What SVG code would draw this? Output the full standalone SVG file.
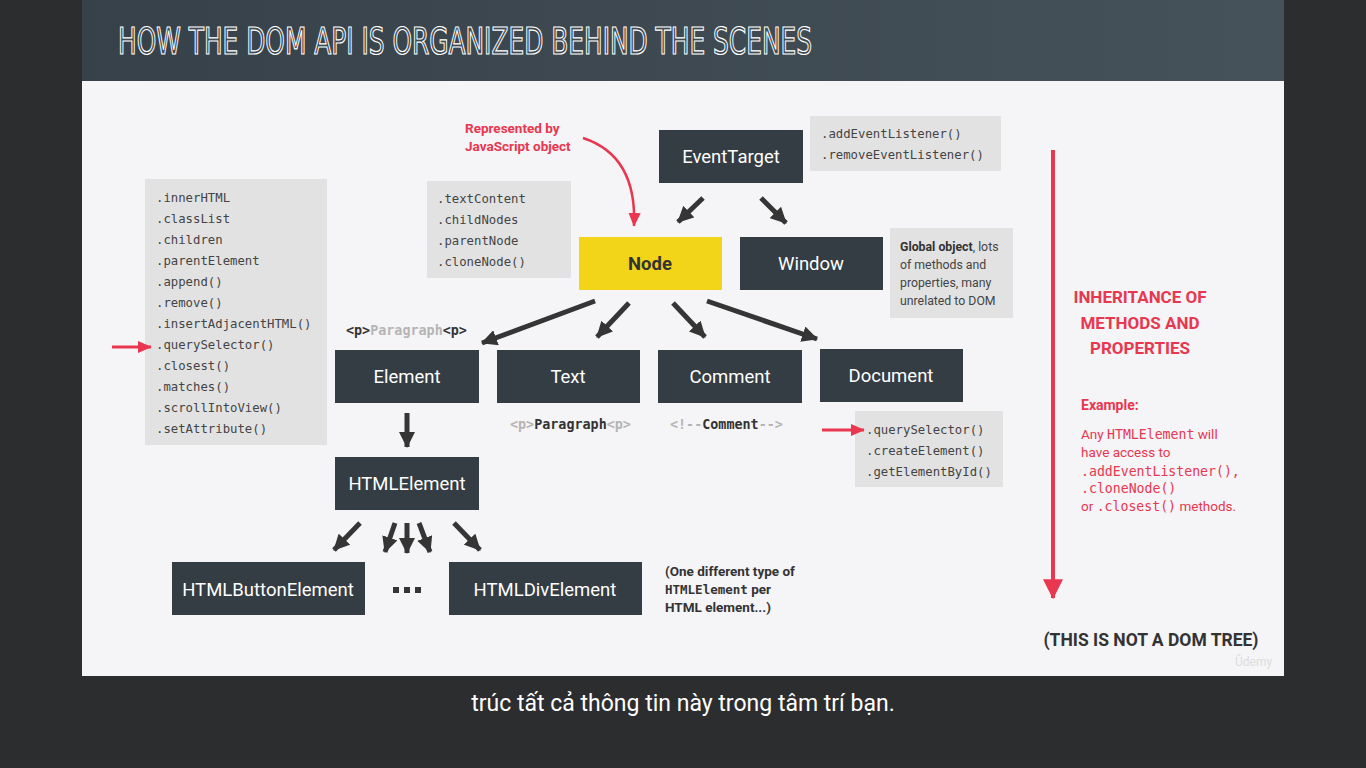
<svg xmlns="http://www.w3.org/2000/svg" width="1366" height="768" viewBox="0 0 1366 768">
  <defs>
    <linearGradient id="hdr" x1="0" y1="0" x2="1" y2="0">
      <stop offset="0" stop-color="#36414a"/>
      <stop offset="1" stop-color="#46525a"/>
    </linearGradient>
    <marker id="head" viewBox="0 0 16 16" refX="15" refY="8" markerWidth="16" markerHeight="16" markerUnits="userSpaceOnUse" orient="auto">
      <path d="M0,0 L16,8 L0,16 z" fill="#353535"/>
    </marker>
    <marker id="redHead" viewBox="0 0 16 16" refX="15" refY="8" markerWidth="14" markerHeight="14" markerUnits="userSpaceOnUse" orient="auto">
      <path d="M0,1 L16,8 L0,15 z" fill="#e8374f"/>
    </marker>
    <marker id="redBig" viewBox="0 0 16 16" refX="15" refY="8" markerWidth="20" markerHeight="20" markerUnits="userSpaceOnUse" orient="auto">
      <path d="M0,0 L16,8 L0,16 z" fill="#e8374f"/>
    </marker>
    <style>
      .box { fill: #343c44; }
      .lbl { font-family: Roboto, "Liberation Sans", sans-serif; font-size: 18.5px; fill: #ffffff; text-anchor: middle; }
      .panel { fill: #e2e2e2; }
      .mono { font-family: "DejaVu Sans Mono", "Liberation Mono", monospace; font-size: 12.3px; fill: #444; }
      .sans { font-family: Roboto, "Liberation Sans", sans-serif; font-size: 12.3px; fill: #444; }
      .red { fill: #e8374f; }
      .arr { stroke: #353535; stroke-width: 5; fill: none; marker-end: url(#head); }
    </style>
  </defs>

  <!-- player background -->
  <rect x="0" y="0" width="1366" height="768" fill="#2c2d2f"/>
  <!-- slide -->
  <rect x="82" y="0" width="1202" height="676" fill="#f5f4f7"/>
  <rect x="82" y="0" width="1202" height="81" fill="url(#hdr)"/>
  <text x="118" y="54" font-family="'DejaVu Sans', sans-serif" font-stretch="condensed" font-size="37" fill="#3f4a52" stroke="#ffffff" stroke-width="1.2" textLength="694" lengthAdjust="spacingAndGlyphs">HOW THE DOM API IS ORGANIZED BEHIND THE SCENES</text>

  <!-- method panels -->
  <g id="panel-eventtarget">
    <rect class="panel" x="810" y="116" width="191" height="55"/>
    <text class="mono" x="821" y="138">.addEventListener()</text>
    <text class="mono" x="821" y="159">.removeEventListener()</text>
  </g>
  <g id="panel-node">
    <rect class="panel" x="427" y="181" width="144" height="97"/>
    <text class="mono" x="437" y="203">.textContent</text>
    <text class="mono" x="437" y="224">.childNodes</text>
    <text class="mono" x="437" y="245">.parentNode</text>
    <text class="mono" x="437" y="266">.cloneNode()</text>
  </g>
  <g id="panel-window">
    <rect class="panel" x="890" y="228" width="123" height="90"/>
    <text class="sans" x="900" y="251"><tspan font-weight="bold" fill="#333">Global object</tspan>, lots</text>
    <text class="sans" x="900" y="269">of methods and</text>
    <text class="sans" x="900" y="287">properties, many</text>
    <text class="sans" x="900" y="305">unrelated to DOM</text>
  </g>
  <g id="panel-element">
    <rect class="panel" x="145" y="179" width="182" height="266"/>
    <text class="mono" x="156" y="202">.innerHTML</text>
    <text class="mono" x="156" y="223">.classList</text>
    <text class="mono" x="156" y="244">.children</text>
    <text class="mono" x="156" y="265">.parentElement</text>
    <text class="mono" x="156" y="286">.append()</text>
    <text class="mono" x="156" y="307">.remove()</text>
    <text class="mono" x="156" y="328">.insertAdjacentHTML()</text>
    <text class="mono" x="156" y="349">.querySelector()</text>
    <text class="mono" x="156" y="370">.closest()</text>
    <text class="mono" x="156" y="391">.matches()</text>
    <text class="mono" x="156" y="412">.scrollIntoView()</text>
    <text class="mono" x="156" y="433">.setAttribute()</text>
  </g>
  <g id="panel-document">
    <rect class="panel" x="855" y="411" width="148" height="76"/>
    <text class="mono" x="866" y="434">.querySelector()</text>
    <text class="mono" x="866" y="455">.createElement()</text>
    <text class="mono" x="866" y="476">.getElementById()</text>
  </g>

  <!-- nodes -->
  <g id="node-eventtarget">
    <rect class="box" x="659" y="130" width="144" height="53"/>
    <text class="lbl" x="731" y="163">EventTarget</text>
  </g>
  <g id="node-node">
    <rect x="579" y="237" width="143" height="53" fill="#f2d519"/>
    <text class="lbl" x="650" y="270" style="fill:#333;font-weight:bold">Node</text>
  </g>
  <g id="node-window">
    <rect class="box" x="740" y="237" width="143" height="53"/>
    <text class="lbl" x="811" y="270">Window</text>
  </g>
  <g id="node-element">
    <rect class="box" x="335" y="350" width="144" height="53"/>
    <text class="lbl" x="407" y="383">Element</text>
  </g>
  <g id="node-text">
    <rect class="box" x="497" y="350" width="143" height="53"/>
    <text class="lbl" x="568" y="383">Text</text>
  </g>
  <g id="node-comment">
    <rect class="box" x="658" y="350" width="144" height="53"/>
    <text class="lbl" x="730" y="383">Comment</text>
  </g>
  <g id="node-document">
    <rect class="box" x="820" y="349" width="143" height="53"/>
    <text class="lbl" x="891" y="382">Document</text>
  </g>
  <g id="node-htmlelement">
    <rect class="box" x="335" y="457" width="144" height="53"/>
    <text class="lbl" x="407" y="490">HTMLElement</text>
  </g>
  <g id="node-htmlbuttonelement">
    <rect class="box" x="172" y="562" width="193" height="53"/>
    <text class="lbl" x="268" y="596">HTMLButtonElement</text>
  </g>
  <g id="node-htmldivelement">
    <rect class="box" x="449" y="562" width="193" height="53"/>
    <text class="lbl" x="545" y="596">HTMLDivElement</text>
  </g>

  <!-- ellipsis between leaf classes -->
  <g id="ellipsis" fill="#353535">
    <rect x="393" y="587" width="6" height="6"/>
    <rect x="404" y="587" width="6" height="6"/>
    <rect x="415" y="587" width="6" height="6"/>
  </g>

  <!-- connectors -->
  <g id="connectors">
    <line class="arr" x1="703" y1="198" x2="678" y2="222"/>
    <line class="arr" x1="761" y1="198" x2="786" y2="223"/>
    <line class="arr" x1="595" y1="301" x2="482" y2="343"/>
    <line class="arr" x1="629" y1="303" x2="597" y2="337"/>
    <line class="arr" x1="673" y1="303" x2="705" y2="337"/>
    <line class="arr" x1="707" y1="301" x2="817" y2="339"/>
    <line class="arr" x1="407" y1="413" x2="407" y2="447"/>
    <line class="arr" x1="360" y1="523" x2="334" y2="550"/>
    <line class="arr" x1="395" y1="523" x2="385" y2="552"/>
    <line class="arr" x1="407" y1="523" x2="407" y2="553"/>
    <line class="arr" x1="419" y1="523" x2="430" y2="552"/>
    <line class="arr" x1="454" y1="523" x2="480" y2="550"/>
    <!-- annotation arrows -->
    <path d="M583,138 C620,150 636,180 634,226" stroke="#e8374f" stroke-width="2.5" fill="none" marker-end="url(#redHead)"/>
    <line x1="112" y1="347" x2="151" y2="347" stroke="#e8374f" stroke-width="3" marker-end="url(#redHead)"/>
    <line x1="822" y1="430" x2="864" y2="430" stroke="#e8374f" stroke-width="3" marker-end="url(#redHead)"/>
    <line x1="1053" y1="150" x2="1053" y2="598" stroke="#e8374f" stroke-width="4" marker-end="url(#redBig)"/>
  </g>

  <!-- annotations -->
  <text x="465" y="133" font-family="Roboto, 'Liberation Sans', sans-serif" font-size="13.5" font-weight="bold" class="red">Represented by</text>
  <text x="465" y="151" font-family="Roboto, 'Liberation Sans', sans-serif" font-size="13.5" font-weight="bold" class="red">JavaScript object</text>

  <text x="346" y="335" font-family="'DejaVu Sans Mono', 'Liberation Mono', monospace" font-size="13.4" font-weight="bold" fill="#333">&lt;p&gt;<tspan fill="#b5b5b5">Paragraph</tspan>&lt;p&gt;</text>
  <text x="510" y="429" font-family="'DejaVu Sans Mono', 'Liberation Mono', monospace" font-size="13.4" font-weight="bold" fill="#b5b5b5">&lt;p&gt;<tspan fill="#333">Paragraph</tspan>&lt;p&gt;</text>
  <text x="670" y="429" font-family="'DejaVu Sans Mono', 'Liberation Mono', monospace" font-size="13.4" font-weight="bold" fill="#b5b5b5">&lt;!--<tspan fill="#333">Comment</tspan>--&gt;</text>

  <g font-family="Roboto, 'Liberation Sans', sans-serif" font-size="13.5" font-weight="bold" fill="#333">
    <text x="665" y="576">(One different type of</text>
    <text x="665" y="594"><tspan font-family="'DejaVu Sans Mono', 'Liberation Mono', monospace" font-size="12.5">HTMLElement</tspan> per</text>
    <text x="665" y="612">HTML element...)</text>
  </g>

  <g font-family="Roboto, 'Liberation Sans', sans-serif" font-weight="bold" font-size="17" class="red" text-anchor="middle">
    <text x="1140" y="303">INHERITANCE OF</text>
    <text x="1140" y="329">METHODS AND</text>
    <text x="1140" y="354">PROPERTIES</text>
  </g>
  <text x="1081" y="410" font-family="Roboto, 'Liberation Sans', sans-serif" font-weight="bold" font-size="14" class="red">Example:</text>
  <g font-family="Roboto, 'Liberation Sans', sans-serif" font-size="13.5" class="red">
    <text x="1081" y="439">Any <tspan font-family="'DejaVu Sans Mono', 'Liberation Mono', monospace" font-size="13.2">HTMLElement</tspan> will</text>
    <text x="1081" y="457">have access to</text>
    <text x="1081" y="476" font-family="'DejaVu Sans Mono', 'Liberation Mono', monospace" font-size="13.2">.addEventListener(),</text>
    <text x="1081" y="493" font-family="'DejaVu Sans Mono', 'Liberation Mono', monospace" font-size="13.2">.cloneNode()</text>
    <text x="1081" y="511">or <tspan font-family="'DejaVu Sans Mono', 'Liberation Mono', monospace" font-size="13.2">.closest()</tspan> methods.</text>
  </g>

  <text x="1151" y="646" font-family="Roboto, 'Liberation Sans', sans-serif" font-weight="bold" font-size="17.5" fill="#333" text-anchor="middle">(THIS IS NOT A DOM TREE)</text>
  <text x="1235" y="666" font-family="Roboto, 'Liberation Sans', sans-serif" font-size="12" fill="#dcdcdc">Ûdemy</text>

  <!-- caption -->
  <text x="683" y="711" font-family="Roboto, 'Noto Sans', sans-serif" font-size="23" fill="#ffffff" text-anchor="middle">trúc tất cả thông tin này trong tâm trí bạn.</text>
</svg>
